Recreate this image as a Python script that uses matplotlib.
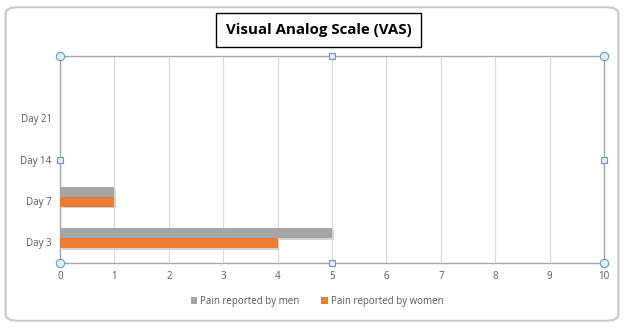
import matplotlib.pyplot as plt
from matplotlib.patches import FancyBboxPatch
import numpy as np

# VAS scores per follow-up day
days = ["Day 3", "Day 7", "Day 14", "Day 21", ""]
men = [5, 1, 0, 0, 0]
women = [4, 1, 0, 0, 0]
xticks = list(range(0, 11))

gray = "#a5a5a5"
orange = "#ed7d31"
label_col = "#595959"

plt.rcParams['font.family'] = ['Open Sans', 'DejaVu Sans']

fig = plt.figure(figsize=(6.24, 3.28), dpi=100)
fig.patch.set_facecolor("white")

# outer chart frame
fig.patches.append(FancyBboxPatch((0.009, 0.022), 0.982, 0.956,
                                  boxstyle="round,pad=0,rounding_size=0.02",
                                  transform=fig.transFigure, fc="none",
                                  ec="#c8c8c8", lw=1.5, zorder=-1))

ax = fig.add_axes([0.0962, 0.198, 0.8718, 0.631])
y = np.arange(len(days))
h = 0.24
off = 0.1  # bar pair sits slightly above the category centre
# soft drop shadow under each bar
ax.barh(y + off + h / 2 - 0.04, men, height=h, left=0.03, color="#d4d4d4", zorder=2)
ax.barh(y + off - h / 2 - 0.04, women, height=h, left=0.03, color="#d4d4d4", zorder=2)
ax.barh(y + off + h / 2, men, height=h, color=gray, label="Pain reported by men", zorder=3)
ax.barh(y + off - h / 2, women, height=h, color=orange, label="Pain reported by women", zorder=3)

ax.set_xlim(0, 10)
ax.set_ylim(-0.5, len(days) - 0.5)
ax.set_xticks(xticks)
ax.set_yticks(y)
ax.set_yticklabels(days)
ax.tick_params(axis="both", length=0, labelsize=7, colors=label_col, pad=6)
ax.grid(axis="x", color="#d9d9d9", lw=0.8, zorder=0)
ax.set_axisbelow(True)
for s in ax.spines.values():
    s.set_color("#a6a6a6")
    s.set_linewidth(1.0)

# selection handles around the plot area
hx = [0, 5, 10, 0, 10, 0, 5, 10]
hy = [-0.5, -0.5, -0.5, 2, 2, 4.5, 4.5, 4.5]
circ = [True, False, True, False, False, True, False, True]
for xx, yy, c in zip(hx, hy, circ):
    ax.plot(xx, yy, marker="o" if c else "s", ms=6 if c else 5,
            mfc="#ddeef7", mec="#6a9bbb", mew=0.8, clip_on=False, zorder=5)

# title in a framed box
fig.text(0.511, 0.908, "Visual Analog Scale (VAS)", ha="center", va="center",
         fontsize=10.8, fontweight="bold", color="black",
         bbox=dict(boxstyle="square,pad=0.65", fc="white", ec="black", lw=1.0))

leg = fig.legend(loc="center", bbox_to_anchor=(0.508, 0.08), ncol=2, frameon=False,
                 fontsize=7, handlelength=0.7, handleheight=0.7, columnspacing=2.2,
                 handletextpad=0.3)
for t in leg.get_texts():
    t.set_color(label_col)

fig.savefig("out.png", dpi=100)
